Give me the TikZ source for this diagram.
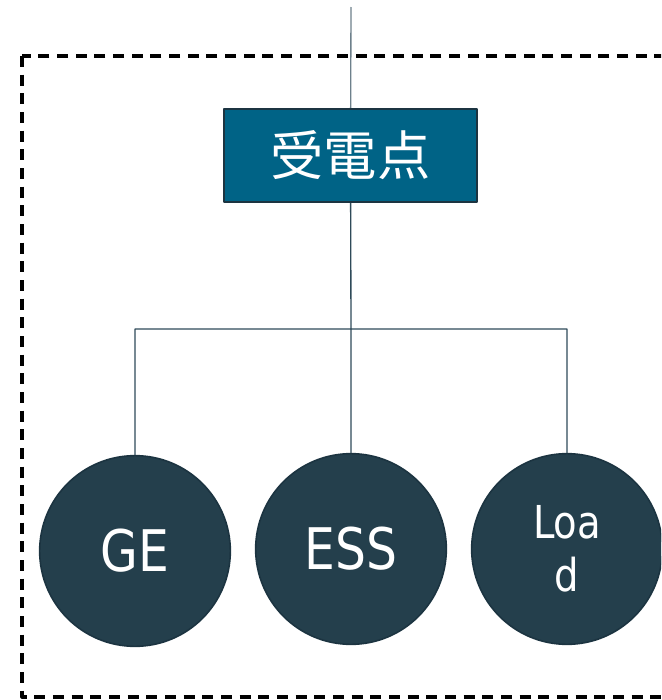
\documentclass[tikz,border=0pt]{standalone}
\usepackage{fontspec}
\setmainfont[FakeStretch=0.85]{DejaVu Sans}
\newfontfamily\jpfont{Noto Sans CJK JP}
\definecolor{boxblue}{HTML}{006386}
\definecolor{unitfill}{HTML}{243F4C}
\definecolor{rim}{HTML}{1C3441}
\definecolor{wirecol}{HTML}{2E4A59}
\begin{document}
\begin{tikzpicture}[x=0.75pt,y=-0.75pt,line join=round,
	wire/.style={draw=wirecol,line width=1pt},
	unit/.style={circle,fill=unitfill,draw=rim,line width=1.2pt,minimum size=143pt,inner sep=0pt,text=white,align=center,font=\fontsize{43}{52}\selectfont}]
	\useasboundingbox (0,0) rectangle (661,700);
	\clip (0,0) rectangle (661,700);
	% site boundary
	\draw[line width=2.4pt,dash pattern=on 8.2pt off 5.8pt] (22,56) rectangle (720,697);
	\path
	(351,7) coordinate (T)
	(351,329) coordinate (bus)
	;
	\node[fill=boxblue,draw=rim,line width=1.5pt,minimum width=190pt,minimum height=70pt,inner sep=0pt,text=white,font=\jpfont\fontsize{40}{48}\selectfont] (R) at (350.5,155.5) {受電点};
	\node[unit] (GE) at (135,551) {GE};
	\node[unit] (ESS) at (351,549) {ESS};
	\node[unit,font=\fontsize{34}{40}\selectfont] (L) at (567,549) {Loa\\d};
	% feeders
	\draw[wire,draw=wirecol!70] (T) -- (R);
	\draw[wire] (R) -- (bus) (ESS) -- (bus) (GE.north) |- (bus) -| (L.north);
\end{tikzpicture}
\end{document}
